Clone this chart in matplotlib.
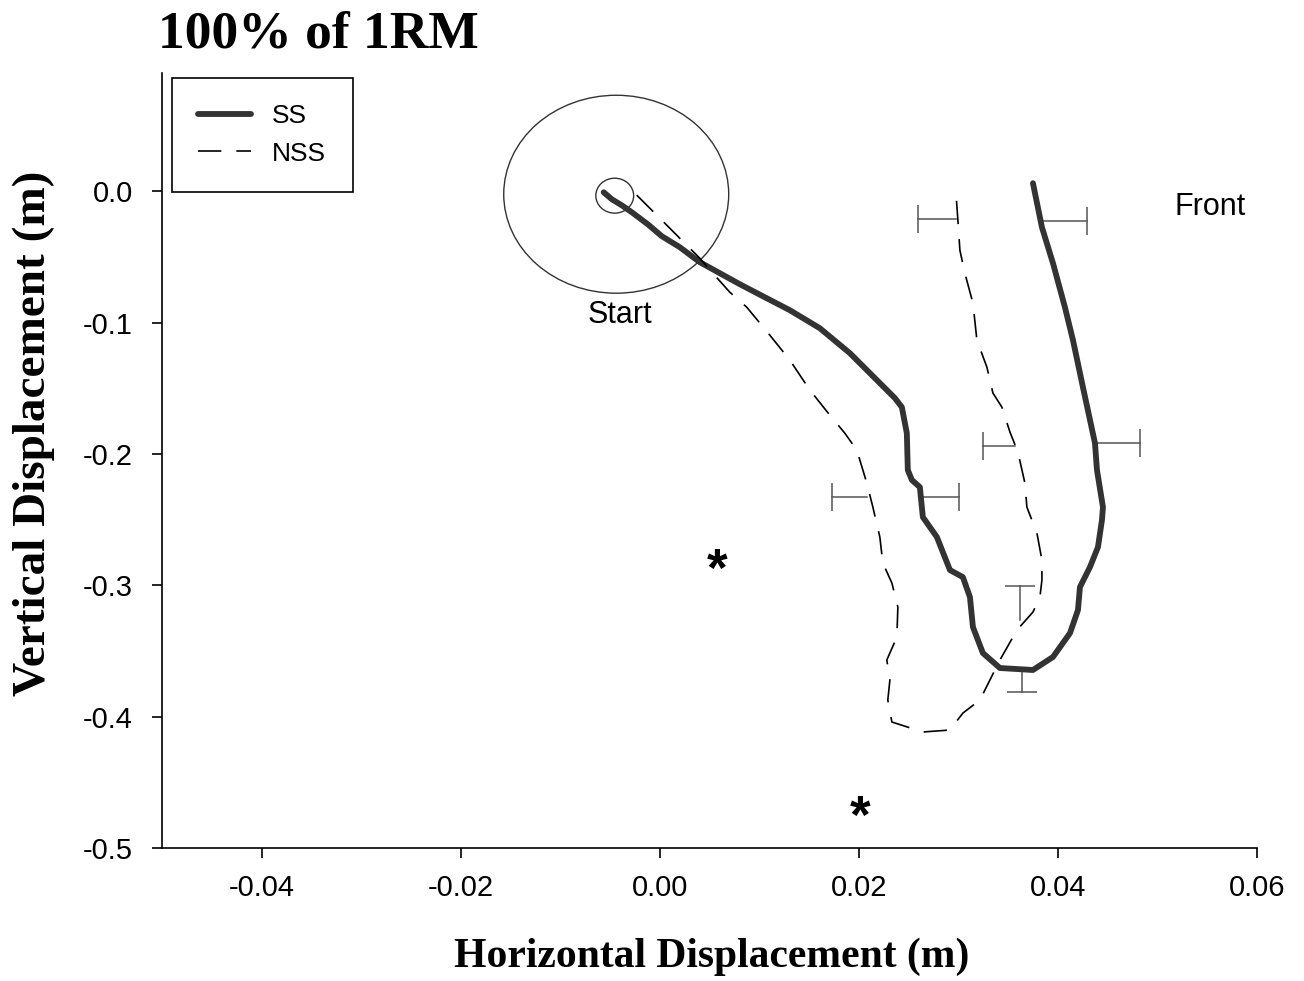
import matplotlib
matplotlib.use("Agg")
import matplotlib.pyplot as plt
from matplotlib.patches import Ellipse

# SS path (horizontal, vertical displacement in m)
ss_x = [-0.00563, -0.00482, -0.00382, -0.00281, -0.00121, 0.00020, 0.00201, 0.00402,
        0.00603, 0.00804, 0.01055, 0.01307, 0.01608, 0.01910, 0.02181, 0.02362,
        0.02432, 0.02482, 0.02492, 0.02533, 0.02613, 0.02643, 0.02784, 0.02915,
        0.03045, 0.03116, 0.03146, 0.03246, 0.03417, 0.03749, 0.03950, 0.04121,
        0.04201, 0.04221, 0.04322, 0.04402, 0.04442, 0.04452, 0.04392, 0.04372,
        0.04251, 0.04151, 0.04070, 0.03950, 0.03839, 0.03749]
ss_y = [-0.0008, -0.0061, -0.0107, -0.0160, -0.0251, -0.0342, -0.0426, -0.0540,
        -0.0624, -0.0708, -0.0807, -0.0906, -0.1043, -0.1233, -0.1438, -0.1575,
        -0.1644, -0.1842, -0.2123, -0.2199, -0.2253, -0.2481, -0.2633, -0.2884,
        -0.2938, -0.3090, -0.3318, -0.3516, -0.3630, -0.3645, -0.3546, -0.3364,
        -0.3189, -0.3014, -0.2861, -0.2709, -0.2504, -0.2405, -0.2123, -0.1918,
        -0.1492, -0.1134, -0.0883, -0.0548, -0.0274, 0.0061]

# NSS path
nss_x = [-0.00231, 0.00000, 0.00171, 0.00402, 0.00533, 0.00704, 0.00874, 0.01106,
         0.01307, 0.01508, 0.01709, 0.01859, 0.01980, 0.02080, 0.02141, 0.02211,
         0.02241, 0.02332, 0.02392, 0.02382, 0.02281, 0.02312, 0.02291, 0.02332,
         0.02643, 0.02915, 0.03045, 0.03216, 0.03317, 0.03417, 0.03588, 0.03749,
         0.03819, 0.03839, 0.03839, 0.03789, 0.03688, 0.03668, 0.03598, 0.03518,
         0.03437, 0.03347, 0.03286, 0.03186, 0.03146, 0.03065, 0.03015, 0.02995,
         0.02975]
nss_y = [-0.0030, -0.0205, -0.0335, -0.0510, -0.0624, -0.0769, -0.0883, -0.1096,
         -0.1286, -0.1514, -0.1705, -0.1842, -0.1971, -0.2222, -0.2405, -0.2633,
         -0.2831, -0.2983, -0.3166, -0.3394, -0.3569, -0.3721, -0.3874, -0.4041,
         -0.4117, -0.4102, -0.3973, -0.3874, -0.3721, -0.3569, -0.3341, -0.3204,
         -0.3090, -0.2960, -0.2808, -0.2603, -0.2405, -0.2222, -0.1986, -0.1834,
         -0.1644, -0.1537, -0.1339, -0.1134, -0.0852, -0.0624, -0.0449, -0.0221,
         -0.0008]

# one-sided horizontal error bars: (x, y, error)
ss_xerr_x = [0.0383, 0.0437, 0.0264]
ss_xerr_y = [-0.0228, -0.1918, -0.2329]
ss_xerr = [0.0046, 0.0045, 0.0037]
nss_xerr_x = [0.0298, 0.0357, 0.0208]
nss_xerr_y = [-0.0213, -0.1941, -0.2329]
nss_xerr = [0.0039, 0.0032, 0.0035]
# vertical error bars at lowest point
ss_yerr_pt = (0.0364, -0.3645, 0.0168)
nss_yerr_pt = (0.0362, -0.3265, 0.0259)

star_x = [0.0058, 0.0201]
star_y = [-0.286, -0.474]

fig = plt.figure(figsize=(13.04, 9.81), dpi=100)
ax = fig.add_axes([0.1242, 0.1356, 0.8398, 0.79])

sans = "Liberation Sans"
serif = "Liberation Serif"

ax.plot(ss_x, ss_y, color="#333333", lw=4.2, solid_capstyle="round", label="SS", zorder=3)
ax.plot(nss_x, nss_y, color="black", lw=1.2, linestyle=(0, (14, 9)), label="NSS", zorder=3)

ebc = "#555555"
for x, y, e in zip(ss_xerr_x, ss_xerr_y, ss_xerr):
    ax.plot([x, x + e], [y, y], color=ebc, lw=1.1)
    ax.plot([x + e], [y], marker="|", ms=20, mew=1.1, color=ebc)
for x, y, e in zip(nss_xerr_x, nss_xerr_y, nss_xerr):
    ax.plot([x, x - e], [y, y], color=ebc, lw=1.1)
    ax.plot([x - e], [y], marker="|", ms=20, mew=1.1, color=ebc)
x, y, e = ss_yerr_pt
ax.plot([x, x], [y, y - e], color=ebc, lw=1.1)
ax.plot([x], [y - e], marker="_", ms=22, mew=1.1, color=ebc)
x, y, e = nss_yerr_pt
ax.plot([x, x], [y, y + e], color=ebc, lw=1.1)
ax.plot([x], [y + e], marker="_", ms=22, mew=1.1, color=ebc)

ax.add_patch(Ellipse((-0.00437, -0.0023), 0.0226, 0.1507, fill=False, ec="#333333", lw=1))
ax.add_patch(Ellipse((-0.00452, -0.0034), 0.0038, 0.0266, fill=False, ec="#333333", lw=1))

ax.text(-0.004, -0.094, "Start", fontsize=22, family=sans, ha="center", va="center")
ax.text(0.0553, -0.012, "Front", fontsize=22, family=sans, ha="center", va="center")
for sx, sy in zip(star_x, star_y):
    ax.text(sx, sy, "*", fontsize=38, family=sans, fontweight="bold",
            ha="center", va="center_baseline")

ax.set_xlim(-0.05, 0.06)
ax.set_ylim(-0.5, 0.09)
ax.set_xticks([-0.04, -0.02, 0.0, 0.02, 0.04, 0.06])
ax.set_xticklabels(["-0.04", "-0.02", "0.00", "0.02", "0.04", "0.06"])
ax.set_yticks([0.0, -0.1, -0.2, -0.3, -0.4, -0.5])
ax.set_yticklabels(["0.0", "-0.1", "-0.2", "-0.3", "-0.4", "-0.5"])
ax.spines["top"].set_visible(False)
ax.spines["right"].set_visible(False)
for s in ("left", "bottom"):
    ax.spines[s].set_linewidth(1.2)
ax.tick_params(direction="out", length=7, width=1.2)
ax.tick_params(axis="x", pad=12)
ax.tick_params(axis="y", pad=14)
for lab in ax.get_xticklabels() + ax.get_yticklabels():
    lab.set_fontfamily(sans)
    lab.set_fontsize(21)

leg = ax.legend(loc="upper left", bbox_to_anchor=(172 / 1304, 1 - 78 / 981),
                bbox_transform=fig.transFigure, borderaxespad=0, frameon=True,
                fancybox=False, edgecolor="black", framealpha=1,
                prop={"family": sans, "size": 19}, handlelength=2.0,
                borderpad=1.0, labelspacing=0.5, handletextpad=0.8)
leg.get_frame().set_linewidth(1.2)

fig.text(158 / 1304, 1 - 35 / 981, "100% of 1RM", fontsize=38.5, family=serif,
         fontweight="bold", ha="left", va="center")
fig.text(712 / 1304, 1 - 957 / 981, "Horizontal Displacement (m)", fontsize=30,
         family=serif, fontweight="bold", ha="center", va="center")
fig.text(34 / 1304, 1 - 433 / 981, "Vertical Displacement (m)", fontsize=34,
         family=serif, fontweight="bold", ha="center", va="center", rotation=90)

fig.savefig("out.png", dpi=100)
